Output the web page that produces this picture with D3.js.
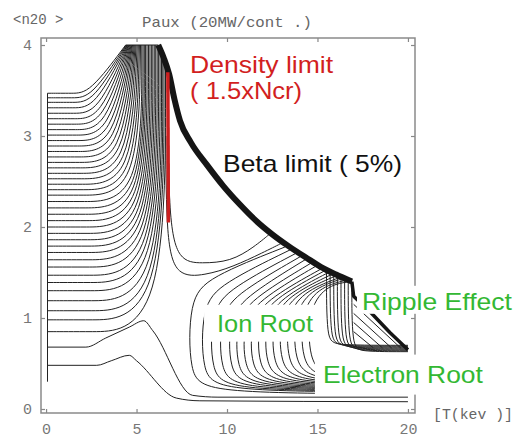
<!DOCTYPE html>
<html>
<head>
<meta charset="utf-8">
<script src="https://cdn.jsdelivr.net/npm/d3@7"></script>
<style>
  body { margin: 0; background: #fff; }
  svg { display: block; }
</style>
</head>
<body>
<svg id="chart" width="516" height="444"></svg>
<script>
// ---- data (T in keV, <n20>) ----
const xTicks = [0, 5, 10, 15, 20];
const yTicks = [0, 1, 2, 3, 4];

// left family of Paux contours: start level, where flat part ends, corner, top position
const leftStart  = [0.85, 0.98, 1.08, 1.19, 1.30, 1.39, 1.47, 1.56, 1.64, 1.72, 1.79, 1.86, 1.93, 2.00, 2.07, 2.14, 2.21, 2.28, 2.35, 2.41, 2.47, 2.53, 2.59, 2.65, 2.71, 2.77, 2.83, 2.89, 2.95, 3.01, 3.07, 3.13, 3.19, 3.25, 3.31, 3.37, 3.42, 3.47];
const leftBend   = [2.2, 2.18, 2.16, 2.14, 2.12, 2.1, 2.08, 2.06, 2.04, 2.02, 2.0, 1.98, 1.96, 1.94, 1.92, 1.9, 1.88, 1.86, 1.84, 1.82, 1.8, 1.78, 1.76, 1.74, 1.72, 1.7, 1.68, 1.66, 1.64, 1.62, 1.6, 1.58, 1.56, 1.54, 1.52, 1.5, 1.48, 1.46];
const leftCorner = [6.6, 6.52, 6.45, 6.38, 6.3, 6.22, 6.14, 6.06, 5.98, 5.9, 5.82, 5.74, 5.66, 5.58, 5.5, 5.43, 5.36, 5.29, 5.1, 4.95, 4.8, 4.65, 4.5, 4.35, 4.2, 4.05, 3.9, 3.75, 3.6, 3.45, 3.3, 3.15, 3.0, 2.85, 2.7, 2.6, 2.5, 2.4];
const leftTop    = [6.6, 6.52, 6.45, 6.38, 6.3, 6.22, 6.14, 6.06, 5.98, 5.9, 5.82, 5.74, 5.66, 5.58, 5.5, 5.43, 5.36, 5.29, 5.22, 5.16, 5.1, 5.04, 4.98, 4.93, 4.88, 4.83, 4.78, 4.74, 4.7, 4.66, 4.62, 4.58, 4.55, 4.52, 4.49, 4.46, 4.43, 4.4];
const leftEnd    = [3.79, 3.84, 3.88, 3.91, 3.95, 3.99, 4, 4, 4, 4, 4, 4, 4, 4, 4, 4, 4, 4, 4, 4, 4, 4, 4, 4, 4, 4, 4, 4, 4, 4, 4, 4, 4, 4, 4, 4, 4, 4];

// the two lowest contours (hump then down to electron root floor)
const humpLow  = [[0.08, 0.48], [2.8, 0.48], [3.6, 0.53], [4.6, 0.59], [5.0, 0.53], [7.2, 0.12], [8.5, 0.09], [20, 0.08]];
const humpHigh = [[0.08, 0.68], [2.2, 0.68], [3.3, 0.78], [4.6, 0.9], [5.4, 0.97], [5.9, 0.86], [8.1, 0.15], [9.5, 0.13], [20, 0.13]];
const leftEdge = [[0.08, 0.3], [0.08, 3.47]];
const peakTop  = [[4.4, 4.0], [6.2, 4.0]];

// saddle contours right of the density limit
const saddleUpper = [[6.75, 3.6], [6.75, 2.1], [7.3, 1.62], [8.6, 1.6], [10.2, 1.62], [11.5, 1.78], [12.4, 1.93]];
const saddleLower = [[6.62, 3.0], [6.64, 1.85], [7.2, 1.45], [8.8, 1.47], [10.3, 1.56], [12.0, 1.72], [13.1, 1.83]];

// ion root family
const ionLeft   = [7.9, 8.6, 9.1, 9.6, 10.1, 10.5, 10.9, 11.3, 11.7, 12.1, 12.5, 12.9, 13.3, 13.7, 14.1, 14.5];
const ionTop    = [1.45, 1.38, 1.33, 1.29, 1.26, 1.24, 1.23, 1.23, 1.24, 1.25, 1.27, 1.29, 1.31, 1.33, 1.35, 1.37];
const ionBottom = [0.17, 0.19, 0.2, 0.21, 0.22, 0.23, 0.24, 0.25, 0.26, 0.27, 0.28, 0.29, 0.3, 0.31, 0.32, 0.33];
const ionJoinT  = [13.2, 13.5, 13.8, 14.1, 14.4, 14.7, 15.0, 15.3, 15.5, 15.7, 15.9, 16.1, 16.3, 16.5, 16.7, 16.9];
const ionJoinN  = [1.78, 1.75, 1.71, 1.68, 1.65, 1.61, 1.58, 1.55, 1.53, 1.51, 1.49, 1.47, 1.45, 1.44, 1.42, 1.40];

// beta limit (5%) band and ripple effect
const betaLimit = [[6.2, 4.0], [6.5, 3.86], [6.8, 3.68], [7.1, 3.4], [7.4, 3.17], [8.0, 2.93], [8.9, 2.68], [9.8, 2.45], [10.7, 2.25], [11.6, 2.07], [12.5, 1.92], [13.4, 1.79], [14.4, 1.66], [15.2, 1.56], [16.0, 1.48], [16.9, 1.4]];
const rippleEdge = [[16.9, 1.4], [17.0, 1.24], [18.0, 1.05], [19.0, 0.84], [20.0, 0.65]];
const rippleT      = [15.5, 15.7, 15.9, 16.1, 16.3, 16.5, 16.7, 16.9];
const rippleTopN   = [1.53, 1.51, 1.49, 1.47, 1.45, 1.44, 1.42, 1.40];
const rippleBottom = [0.70, 0.69, 0.68, 0.67, 0.66, 0.65, 0.64, 0.63];
const rippleHatch = [
  [[17.0, 1.15], [19.6, 0.67]],
  [[17.0, 1.05], [19.1, 0.67]],
  [[17.0, 0.95], [18.6, 0.67]],
  [[17.0, 0.85], [18.1, 0.67]]
];
const densityLimit = [[6.73, 3.7], [6.76, 2.05]];

// annotations: text, T, n (baseline), width, colour
const labelText  = ["Density limit", "( 1.5xNcr)", "Beta limit ( 5%)", "Ion Root", "Ripple Effect", "Electron Root"];
const labelT     = [7.96, 7.96, 9.78, 9.45, 17.46, 15.3];
const labelN     = [3.69, 3.41, 2.6, 0.85, 1.09, 0.29];
const labelWidth = [143, 112, 179, 96, 150, 160];
const labelColor = ["#d21f1f", "#d21f1f", "#111", "#33b833", "#33b833", "#33b833"];
const labelBox   = [null, null, null, [13, 5, 5, 5], [5, 2, 4, -1], [8, 6, 8, 7]];

// ---- drawing ----
const svg = d3.select("#chart");
const plotL = 41, plotT = 38, plotR = 415, plotB = 413;
const x = d3.scaleLinear().domain([-0.28, 20.39]).range([plotL, plotR]);
const y = d3.scaleLinear().domain([-0.044, 4.077]).range([plotB, plotT]);

svg.append("defs").append("clipPath").attr("id", "plot")
  .append("rect").attr("x", plotL).attr("y", plotT).attr("width", plotR - plotL).attr("height", plotB - plotT);

const lineBasis = d3.line().x(d => x(d[0])).y(d => y(d[1])).curve(d3.curveBasis);
const lineMono = d3.line().x(d => x(d[0])).y(d => y(d[1])).curve(d3.curveMonotoneX);
const lineStraight = d3.line().x(d => x(d[0])).y(d => y(d[1]));

const plot = svg.append("g").attr("clip-path", "url(#plot)")
  .attr("fill", "none").attr("stroke", "#222").attr("stroke-width", 1);

const leftPolys = leftStart.map((n0, i) => [[0.08, n0], [leftBend[i], n0], [leftCorner[i], n0], [leftTop[i], leftEnd[i]]]);
plot.selectAll(".left").data(leftPolys).enter().append("path")
  .attr("class", "left").attr("d", lineBasis);

plot.selectAll(".hump").data([humpLow, humpHigh]).enter().append("path")
  .attr("class", "hump").attr("d", lineMono);
plot.selectAll(".edge").data([leftEdge, peakTop]).enter().append("path")
  .attr("class", "edge").attr("d", lineStraight);
plot.selectAll(".saddle").data([saddleUpper, saddleLower]).enter().append("path")
  .attr("class", "saddle").attr("d", lineBasis);

const ionPolys = ionLeft.map((tl, i) => [
  [ionJoinT[i], ionJoinN[i]], [tl + 1.1, ionTop[i]], [tl, ionTop[i] - 0.25],
  [tl, ionBottom[i] + 0.2], [tl + 1, ionBottom[i]], [20, ionBottom[i]]
]);
plot.selectAll(".ion").data(ionPolys).enter().append("path")
  .attr("class", "ion").attr("d", lineBasis);

const ripplePolys = rippleT.map((t, i) => [[t, rippleTopN[i]], [t, rippleBottom[i] + 0.05], [t + 0.5, rippleBottom[i]], [20, rippleBottom[i]]]);
plot.selectAll(".ripple").data(ripplePolys).enter().append("path")
  .attr("class", "ripple").attr("d", lineBasis);
plot.selectAll(".hatch").data(rippleHatch).enter().append("path")
  .attr("class", "hatch").attr("d", lineStraight);

plot.append("path").datum(betaLimit).attr("d", lineMono)
  .attr("stroke", "#151515").attr("stroke-width", 6).attr("stroke-linejoin", "round");
plot.append("path").datum(rippleEdge).attr("d", lineStraight)
  .attr("stroke", "#151515").attr("stroke-width", 3.5).attr("stroke-linejoin", "round");

plot.append("path").datum(densityLimit).attr("d", lineStraight)
  .attr("stroke", "#cc1f1f").attr("stroke-width", 3.5);

// ---- axes / frame ----
function styleAxis(g) {
  g.select(".domain").remove();
  g.selectAll(".tick line").attr("stroke", "#888").attr("stroke-width", 1.2);
  g.selectAll(".tick text").attr("fill", "#777")
    .attr("font-family", "'Liberation Mono', monospace").attr("font-size", 15);
}
svg.append("g").attr("transform", `translate(0,${plotB})`)
  .call(d3.axisBottom(x).tickValues(xTicks).tickSize(-4).tickPadding(10)).call(styleAxis);
svg.append("g").attr("transform", `translate(0,${plotT})`)
  .call(d3.axisTop(x).tickValues(xTicks).tickSize(-4).tickFormat("")).call(styleAxis);
svg.append("g").attr("transform", `translate(${plotL},0)`)
  .call(d3.axisLeft(y).tickValues(yTicks).tickFormat(d3.format("d")).tickSize(-4).tickPadding(9)).call(styleAxis);
svg.append("g").attr("transform", `translate(${plotR},0)`)
  .call(d3.axisRight(y).tickValues(yTicks).tickSize(-4).tickFormat("")).call(styleAxis);

svg.append("rect").attr("x", plotL).attr("y", plotT).attr("width", plotR - plotL).attr("height", plotB - plotT)
  .attr("fill", "none").attr("stroke", "#8a8a8a").attr("stroke-width", 1.5);

// ---- titles ----
svg.append("text").attr("x", 13).attr("y", 24).text("<n20 >")
  .attr("font-family", "'Liberation Mono', monospace").attr("font-size", 14).attr("fill", "#666");
svg.append("text").attr("x", 142).attr("y", 27).text("Paux (20MW/cont .)")
  .attr("font-family", "'Liberation Mono', monospace").attr("font-size", 15).attr("fill", "#666")
  .attr("textLength", 170).attr("lengthAdjust", "spacingAndGlyphs");
svg.append("text").attr("x", 433).attr("y", 419).text("[T(kev )]")
  .attr("font-family", "'Liberation Mono', monospace").attr("font-size", 15).attr("fill", "#666")
  .attr("textLength", 80).attr("lengthAdjust", "spacingAndGlyphs");

// ---- annotations ----
labelText.forEach((t, i) => {
  const tx = svg.append("text")
    .attr("x", x(labelT[i])).attr("y", y(labelN[i]))
    .attr("font-family", "'Liberation Sans', Arial, sans-serif").attr("font-size", 24)
    .attr("fill", labelColor[i])
    .attr("textLength", labelWidth[i]).attr("lengthAdjust", "spacingAndGlyphs")
    .text(t);
  const pad = labelBox[i];
  if (pad) {
    const b = tx.node().getBBox();
    svg.insert("rect", () => tx.node())
      .attr("x", b.x - pad[0]).attr("y", b.y - pad[1])
      .attr("width", b.width + pad[0] + pad[2]).attr("height", b.height + pad[1] + pad[3])
      .attr("fill", "#fff");
  }
});
</script>
</body>
</html>
